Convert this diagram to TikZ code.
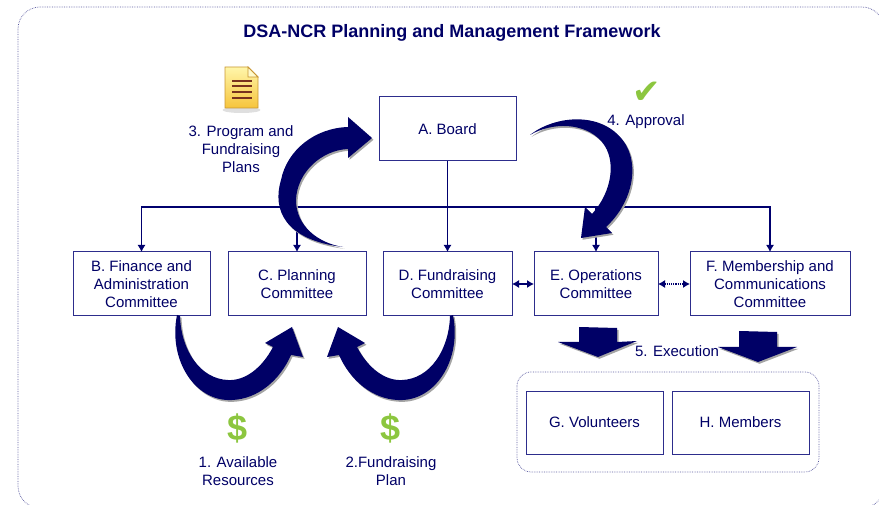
\documentclass[tikz,border=0pt]{standalone}
\usepackage{fontspec}
\setmainfont{Liberation Sans}
\newfontfamily\symfont{DejaVu Sans}
\usepackage{tikz}
\usetikzlibrary{arrows.meta,positioning,shadows}
\usepackage{xcolor}
\definecolor{dsnavy}{RGB}{0,0,102}
\definecolor{dsbox}{RGB}{45,45,140}
\definecolor{dsline}{RGB}{0,0,110}
\definecolor{dsframe}{RGB}{90,90,160}
\definecolor{dsgreen}{RGB}{140,198,63}
\definecolor{dsshadow}{RGB}{165,165,165}
\definecolor{dsnote}{RGB}{255,246,170}
\definecolor{dsnotedark}{RGB}{246,196,60}
\definecolor{dsnoteedge}{RGB}{200,150,50}
\definecolor{dsnoteline}{RGB}{120,50,30}
\tikzstyle{arrow} = [line width=1.2pt,->,>={Latex[length=7pt,width=8pt]},color=dsline]
\tikzstyle{committee} = [rectangle, draw=dsbox, line width=1pt, fill=white, text=dsnavy, align=center, minimum height=64pt, inner sep=2pt, outer sep=0pt]
\tikzstyle{notetext} = [text=dsnavy, align=center]
\tikzstyle{frame} = [densely dotted, draw=dsframe, line width=0.7pt]
\tikzstyle{bigarrow} = [fill=dsnavy, drop shadow={shadow xshift=1.5pt, shadow yshift=-1.8pt, fill=dsshadow, opacity=1}]
\tikzstyle{dollar} = [text=dsgreen, font=\fontsize{36}{36}\selectfont\bfseries]

\begin{document}
\begin{tikzpicture}[x=1pt, y=-1pt, font=\fontsize{15}{18}\selectfont]
\useasboundingbox (0,0) rectangle (879,505);
\clip (0,0) rectangle (879,505);

% Outer frame and title
\draw[frame, rounded corners=22] (18,7) rectangle (884,508);
\node (title) at (452,33) [text=dsnavy, font=\fontsize{18}{22}\selectfont\bfseries] {DSA-NCR Planning and Management Framework};

% Board and committees
\node (board) [committee, minimum width=137pt] at (447.5,129) {A. Board};
\node (bfin) [committee, minimum width=137pt] at (141.5,284) {B. Finance and\\Administration\\Committee};
\node (cplan) [committee, minimum width=138pt, right=18pt of bfin] {C. Planning\\Committee};
\node (dfund) [committee, minimum width=129pt, right=17pt of cplan] {D. Fundraising\\Committee};
\node (eops) [committee, minimum width=124pt, right=22pt of dfund] {E. Operations\\Committee};
\node (fmem) [committee, minimum width=160pt, right=32pt of eops] {F. Membership and\\Communications\\Committee};

% Execution group
\draw[frame, rounded corners=14] (517,372) rectangle (819,472);
\node (gvol) [committee, minimum width=137pt, minimum height=63pt] at (594.5,422.5) {G. Volunteers};
\node (hmem) [committee, minimum width=137pt, minimum height=63pt, right=9pt of gvol] {H. Members};

% Reporting lines
\coordinate (bus) at (447.5,207);
\draw[arrow] (board) -- (dfund);
\draw[arrow] (bus) -| (bfin);
\draw[arrow] (bus) -| (cplan);
\draw[arrow] (bus) -| (eops);
\draw[arrow] (bus) -| (fmem);
\draw[arrow, <->] (dfund) -- (eops);
\draw[arrow, <->, densely dotted] (eops) -- (fmem);

% Curved arrows
\path[bigarrow] (177,315) .. controls (168,360) and (195,402) .. (232,400) .. controls (258,399) and (280,380) .. (291,355) -- (303,357) -- (292,327) -- (265,343) -- (273,347) .. controls (262,368) and (245,381) .. (228,380) .. controls (200,379) and (181,350) .. (180,316) -- cycle;
\path[bigarrow] (453,315) .. controls (462,360) and (435,402) .. (398,400) .. controls (372,399) and (350,380) .. (339,355) -- (327,357) -- (338,327) -- (365,343) -- (357,347) .. controls (368,368) and (385,381) .. (402,380) .. controls (430,379) and (449,350) .. (450,316) -- cycle;
\path[bigarrow] (343,247) .. controls (285,240) and (272,210) .. (281,180) .. controls (287,150) and (315,128) .. (348,127) -- (348,117) -- (372,138) -- (348,158) -- (348,149) .. controls (322,150) and (297,172) .. (296,200) .. controls (296,226) and (318,243) .. (343,247) -- cycle;
\path[bigarrow] (530,135) .. controls (555,115) and (605,110) .. (626,145) .. controls (640,170) and (630,205) .. (606,227) -- (612,233) -- (581,238) -- (585,207) -- (592,214) .. controls (612,192) and (617,160) .. (602,142) .. controls (585,122) and (552,122) .. (530,135) -- cycle;

% Execution arrows
\path[bigarrow] (579,327) -- (617,328) -- (617,342) -- (637,341) -- (598,357) -- (558,342) -- (579,342) -- cycle;
\path[bigarrow] (739,331) -- (777,332) -- (777,347) -- (797,347) -- (758,362) -- (718,347) -- (739,347) -- cycle;

% Step labels
\node (plans) [notetext] at (241,149) {3. Program and\\Fundraising\\Plans};
\node (approval) [notetext] at (646,122) {4. Approval};
\node (execution) [notetext] at (677,351) {5. Execution};
\node (resources) [notetext] at (238,471) {1. Available\\Resources};
\node (fplan) [notetext] at (391,471) {2.Fundraising\\Plan};
\node (dollar1) [dollar] at (238,428) {\$};
\node (dollar2) [dollar] at (391,428) {\$};
\node (check) at (647,93) [text=dsgreen, font=\symfont\fontsize{34}{34}\selectfont] {✔};

% Note icon
\fill[gray!25] (241.5,110) ellipse (19 and 3);
\shadedraw[top color=dsnote, bottom color=dsnotedark, draw=dsnoteedge, line width=0.8pt] (225,67) -- (248,67) -- (258,77) -- (258,108) -- (225,108) -- cycle;
\filldraw[fill=dsnote!60!white, draw=dsnoteedge, line width=0.8pt] (248,67) -- (248,77) -- (258,77) -- cycle;
\draw[dsnoteline, line width=1.3pt] (232,81) -- (252,81) (232,86) -- (252,86) (232,92) -- (252,92) (232,98) -- (252,98);
\end{tikzpicture}
\end{document}
